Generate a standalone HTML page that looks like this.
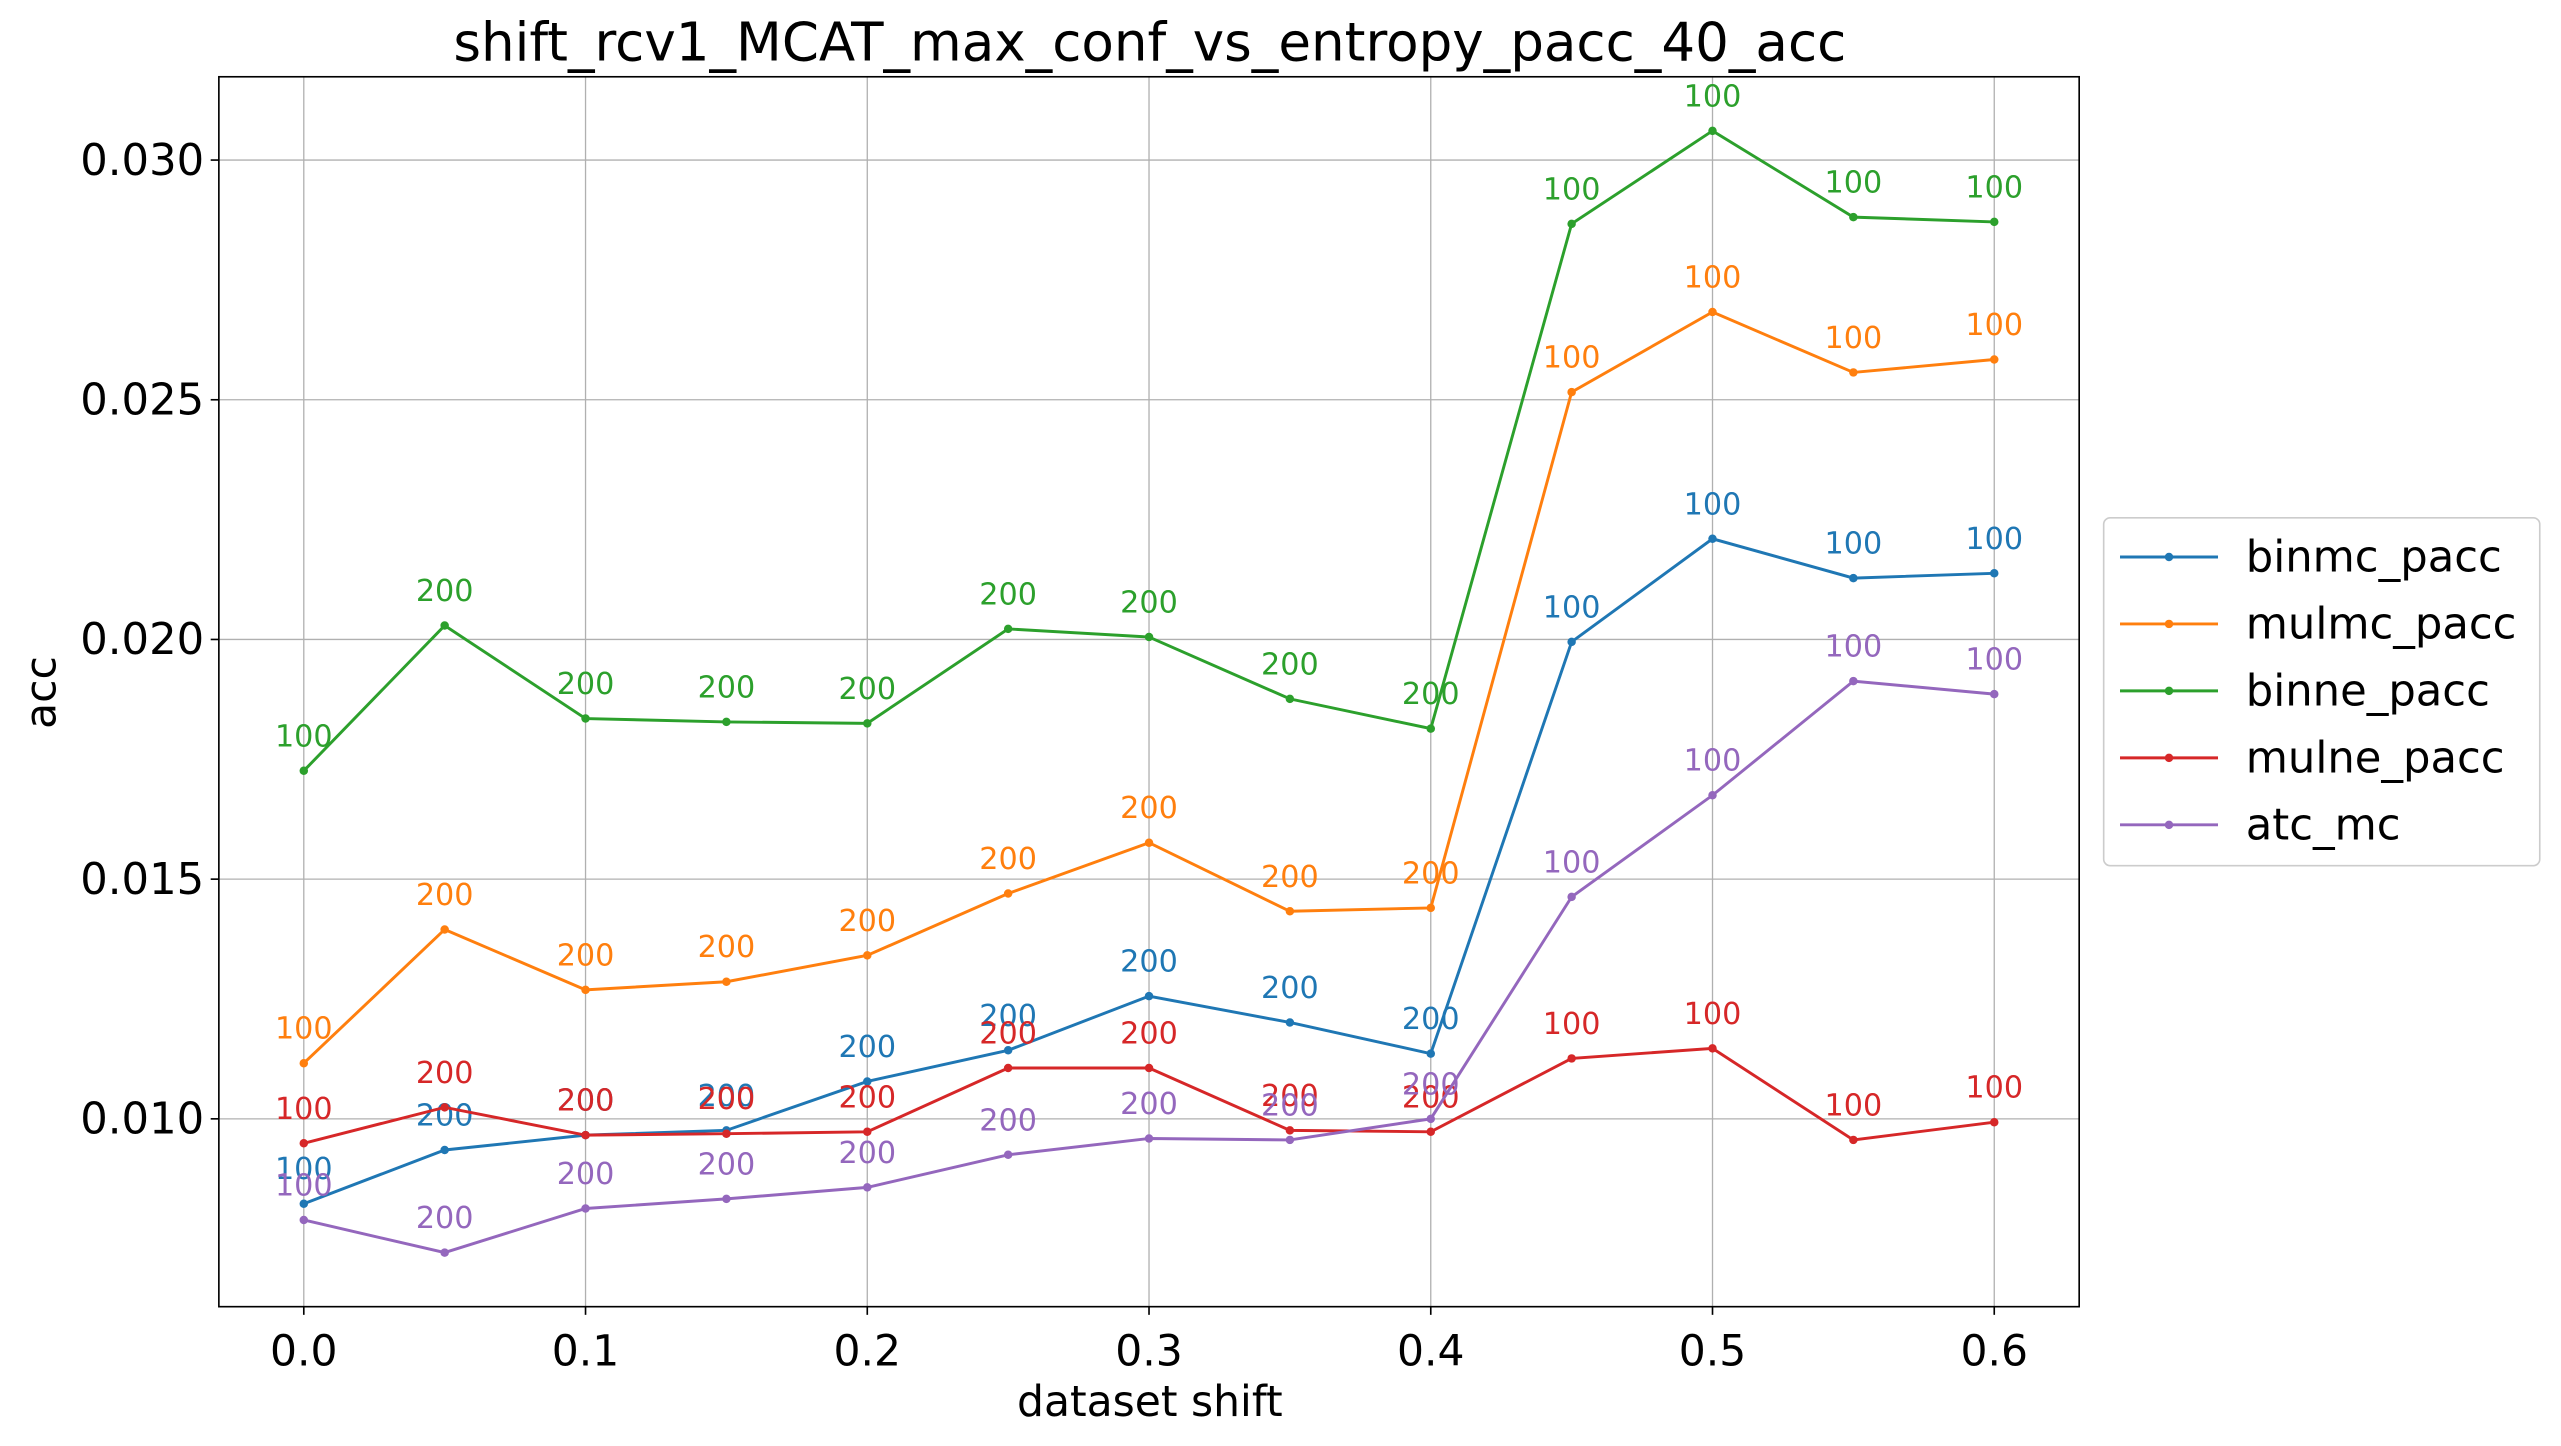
<!DOCTYPE html>
<html><head><meta charset="utf-8"><style>
html,body{margin:0;padding:0;background:#fff;}
svg{display:block;font-family:"DejaVu Sans","Liberation Sans",sans-serif;}
</style></head><body>
<svg id="chart" width="2561" height="1446" viewBox="0 0 1568 885.3" preserveAspectRatio="none" xmlns="http://www.w3.org/2000/svg">
<rect width="1568" height="885.3" fill="#fff"/>
<text x="704" y="37" font-size="32.5" text-anchor="middle">shift_rcv1_MCAT_max_conf_vs_entropy_pacc_40_acc</text>
<g id="grid"></g>
<g id="series"></g>
<rect x="134" y="47" width="1139" height="753" fill="none" stroke="#000" stroke-width="1"/>
<g id="ticks"></g>
<text x="704" y="867" font-size="26" text-anchor="middle">dataset shift</text>
<text transform="translate(34,424) rotate(-90)" font-size="26" text-anchor="middle">acc</text>
<g id="legend"></g>
</svg>
<script>
const xValues=[0,0.05,0.1,0.15,0.2,0.25,0.3,0.35,0.4,0.45,0.5,0.55,0.6];
const xTicks=[0,0.1,0.2,0.3,0.4,0.5,0.6];
const xTickLabels=["0.0","0.1","0.2","0.3","0.4","0.5","0.6"];
const yTicks=[0.010,0.015,0.020,0.025,0.030];
const yTickLabels=["0.010","0.015","0.020","0.025","0.030"];
const seriesNames=["binmc_pacc","mulmc_pacc","binne_pacc","mulne_pacc","atc_mc"];
const binmc=[0.00823,0.00935,0.00966,0.00976,0.01078,0.01143,0.01256,0.01201,0.01136,0.01995,0.02210,0.02128,0.02138];
const mulmc=[0.01116,0.01395,0.01269,0.01286,0.01341,0.01470,0.01576,0.01433,0.01440,0.02516,0.02683,0.02557,0.02584];
const binne=[0.01726,0.02029,0.01835,0.01828,0.01825,0.02022,0.02005,0.01876,0.01814,0.02867,0.03061,0.02881,0.02871];
const mulne=[0.00949,0.01024,0.00966,0.00969,0.00973,0.01106,0.01106,0.00976,0.00973,0.01126,0.01147,0.00956,0.00993];
const atcmc=[0.00789,0.00721,0.00813,0.00833,0.00857,0.00925,0.00959,0.00956,0.01000,0.01463,0.01675,0.01913,0.01886];
const pointLabels=["100","200","200","200","200","200","200","200","200","100","100","100","100"];
const colors=["#1f77b4","#ff7f0e","#2ca02c","#d62728","#9467bd"];
const allSeries=[binmc,mulmc,binne,mulne,atcmc];
const NS="http://www.w3.org/2000/svg";
const xs=v=>186+v/0.05*86.25;
const ys=v=>685-(v-0.010)/0.005*146.75;
function mk(tag,attrs,parent,text){const e=document.createElementNS(NS,tag);for(const k in attrs)e.setAttribute(k,attrs[k]);if(text!==undefined)e.textContent=text;parent.appendChild(e);return e;}
const grid=document.getElementById('grid'),ticks=document.getElementById('ticks'),ser=document.getElementById('series'),leg=document.getElementById('legend');
xTicks.forEach((t,i)=>{const x=xs(t);
 const g=mk('line',{x1:x,x2:x,y1:47,y2:800,stroke:'#b0b0b0','stroke-width':0.8},grid);
 
 
 mk('line',{x1:x,x2:x,y1:800,y2:805,stroke:'#000'},ticks);
 const tl=mk('text',{x:x,y:836,'font-size':26,'text-anchor':'middle'},ticks,xTickLabels[i]);
 
 });
yTicks.forEach((t,i)=>{const y=ys(t);
 const g=mk('line',{x1:134,x2:1273,y1:y,y2:y,stroke:'#b0b0b0','stroke-width':0.8},grid);
 
 
 mk('line',{x1:129,x2:134,y1:y,y2:y,stroke:'#000'},ticks);
 const tl=mk('text',{x:125,y:y+9,'font-size':26.5,'text-anchor':'end'},ticks,yTickLabels[i]);
 
 });
allSeries.forEach((vals,si)=>{const c=colors[si];
 const pts=vals.map((v,i)=>xs(xValues[i])+','+ys(v)).join(' ');
 const pl=mk('polyline',{points:pts,fill:'none',stroke:c,'stroke-width':1.8},ser);
 
 
 vals.forEach((v,i)=>{const cx=xs(xValues[i]),cy=ys(v);
  const d=mk('circle',{cx:cx,cy:cy,r:2.6,fill:c},ser);
  
  
  const t=mk('text',{x:cx,y:cy-15,'font-size':18.5,'text-anchor':'middle',fill:c},ser,pointLabels[i]);
  
  });});
const lb=mk('rect',{x:1288,y:317,width:267,height:213,rx:4,fill:'#fff',stroke:'#ccc'},leg);


seriesNames.forEach((n,i)=>{const y=341+i*41;
 mk('line',{x1:1298,x2:1358,y1:y,y2:y,stroke:colors[i],'stroke-width':1.8},leg);
 mk('circle',{cx:1328,cy:y,r:2.6,fill:colors[i]},leg);
 const t=mk('text',{x:1375,y:y+9,'font-size':26.5},leg,n);
 
 });
</script>
</body></html>
